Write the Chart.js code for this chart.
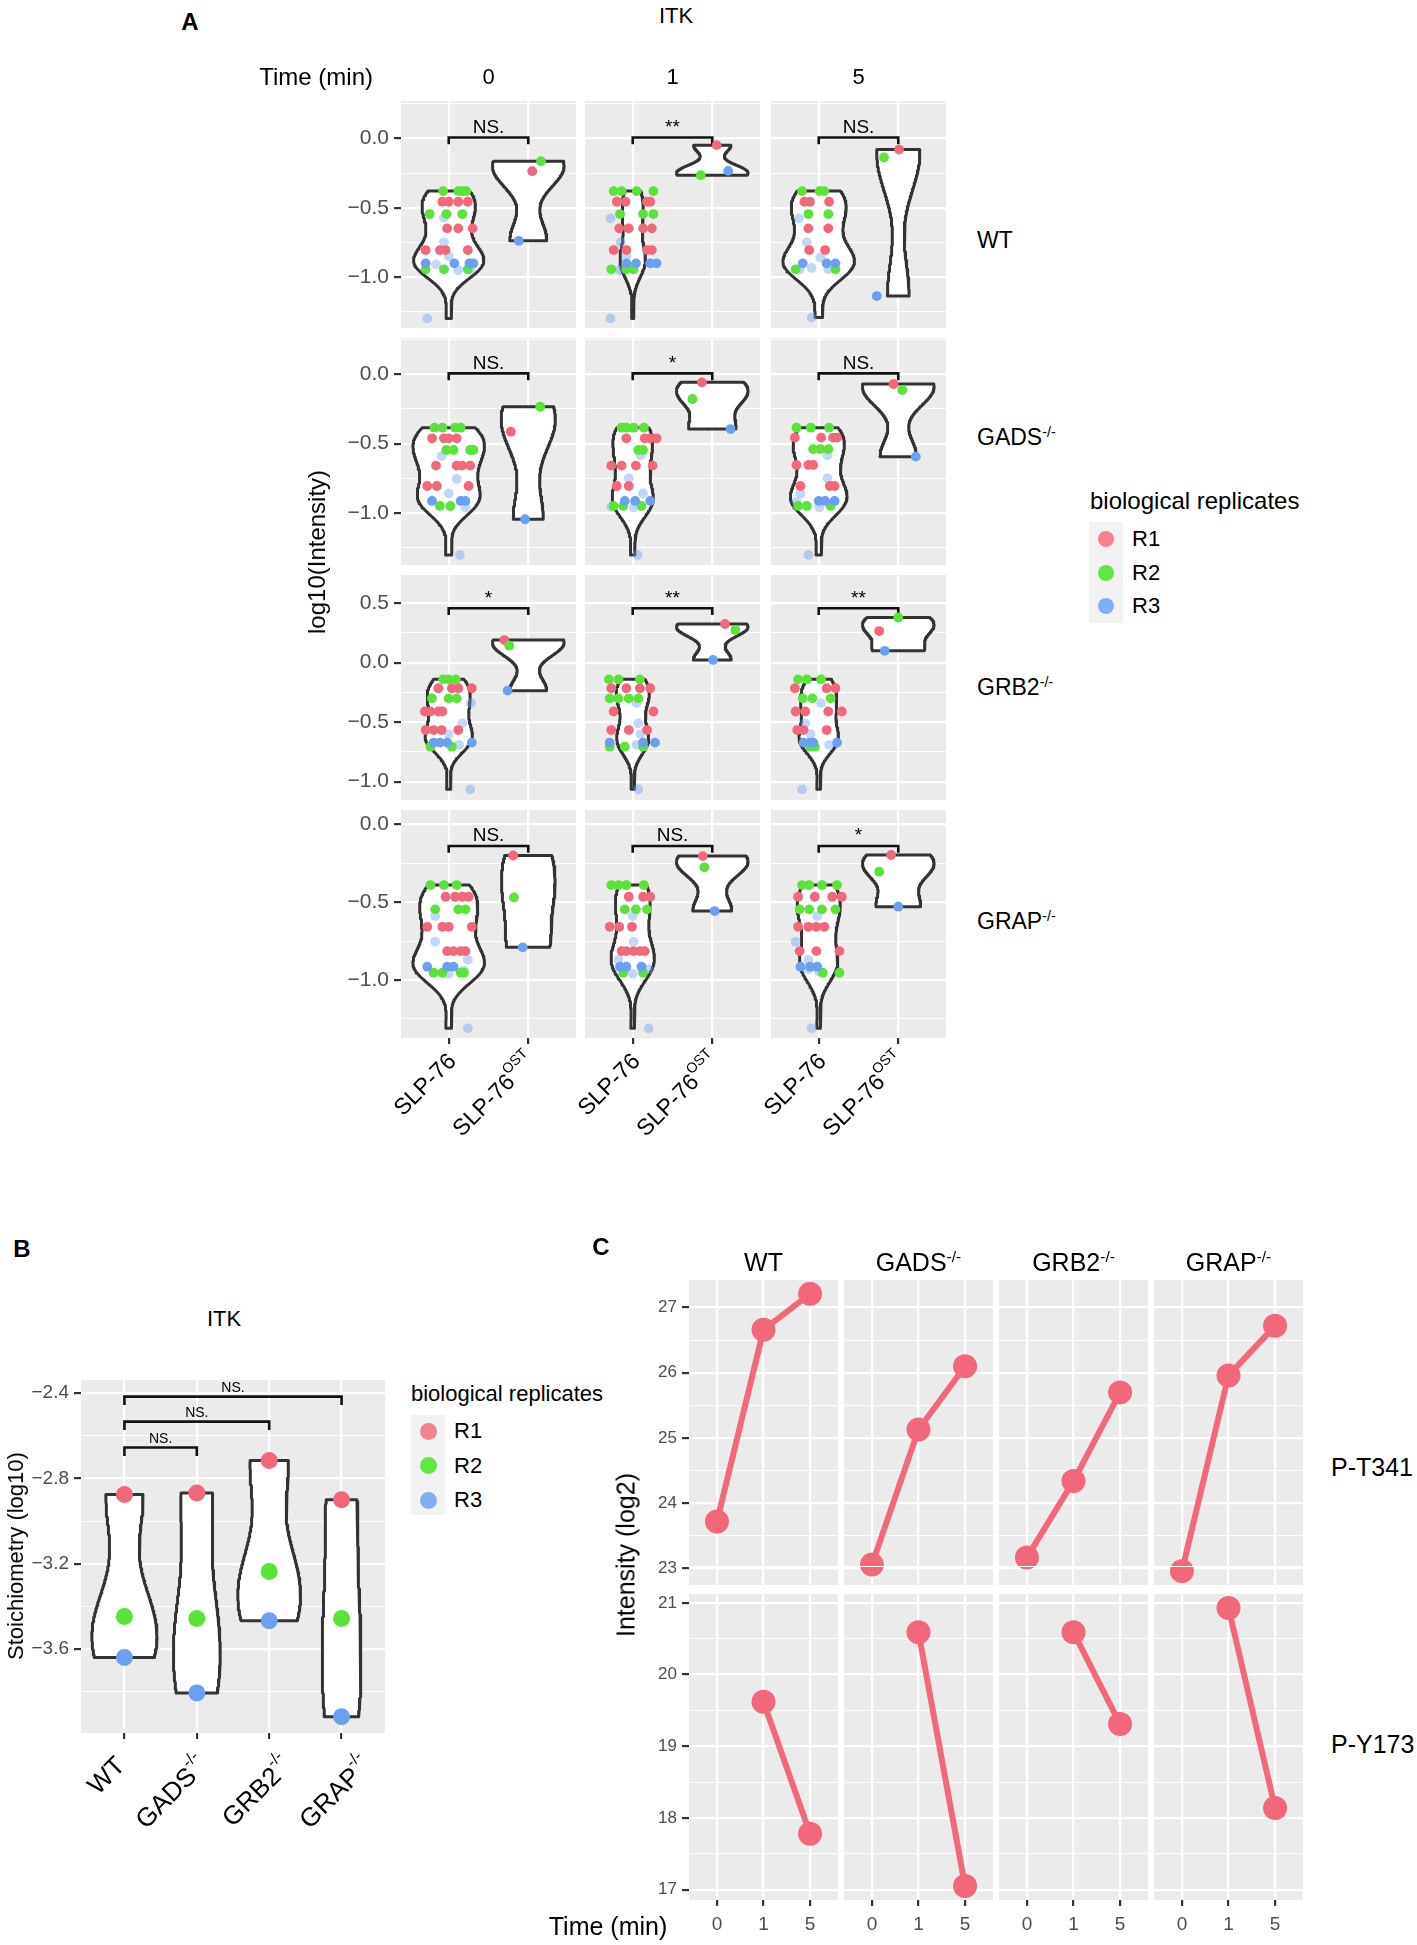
<!DOCTYPE html>
<html>
<head>
<meta charset="utf-8">
<script src="https://cdn.jsdelivr.net/npm/chart.js@4.4.1/dist/chart.umd.min.js"></script>
<style>
  body { margin: 0; background: #fff; }
  #fig { position: relative; width: 1417px; height: 1945px; overflow: hidden;
         font-family: "Liberation Sans", Arial, Helvetica, sans-serif; color: #000; }
  #fig canvas { position: absolute; }
  .t { position: absolute; white-space: nowrap; line-height: 1; }
  .t sup { font-size: 62%; position: relative; top: -0.55em; vertical-align: baseline; }
</style>
</head>
<body>
<div id="fig"></div>
<script>
// ---------------- data ----------------
const genotypes = ['WT', 'GADS', 'GRB2', 'GRAP'];
const genotypeSup = ['', '-/-', '-/-', '-/-'];
const timesA = ['0', '1', '5'];
const baits = ['SLP-76', 'SLP-76'];
const baitSup = ['', 'OST'];
const replicates = ['R1', 'R2', 'R3'];

// panel A: [replicate, x (1 = SLP-76, 2 = SLP-76 OST, jittered), log10(Intensity)]
// 'R3f' = the faint R3 dots
const A_WT_0 = [
  ['R2',0.93,-0.38],['R2',1.12,-0.38],['R2',1.17,-0.38],['R2',1.22,-0.38],
  ['R1',0.92,-0.457],['R1',1.0,-0.457],['R1',1.12,-0.457],['R1',1.24,-0.457],
  ['R2',0.76,-0.546],['R2',0.97,-0.546],['R2',1.17,-0.546],['R3f',0.94,-0.573],
  ['R1',0.98,-0.649],['R1',1.12,-0.649],['R1',1.30,-0.649],['R3f',0.94,-0.75],['R3f',1.0,-0.85],
  ['R1',0.71,-0.806],['R1',0.89,-0.806],['R1',0.96,-0.806],['R1',1.24,-0.806],
  ['R3',0.71,-0.902],['R3',1.07,-0.902],['R3',1.26,-0.902],['R3',1.31,-0.902],['R3f',0.84,-0.91],
  ['R2',0.71,-0.945],['R2',0.94,-0.945],['R2',1.24,-0.945],['R3f',1.12,-0.95],['R3f',1.27,-0.95],
  ['R3f',0.73,-1.30],
  ['R2',2.16,-0.164],['R1',2.05,-0.236],['R3',1.88,-0.739]
];
const A_WT_1 = [
  ['R2',0.76,-0.38],['R2',0.86,-0.38],['R2',1.05,-0.38],['R2',1.26,-0.38],
  ['R1',0.80,-0.457],['R1',0.91,-0.457],['R1',1.18,-0.457],['R1',1.22,-0.457],
  ['R2',0.84,-0.546],['R2',1.13,-0.546],['R2',1.26,-0.546],['R3f',0.72,-0.577],
  ['R1',0.83,-0.649],['R1',0.95,-0.649],['R1',1.13,-0.649],['R1',1.24,-0.649],['R3f',0.85,-0.75],['R3f',0.92,-0.85],
  ['R1',0.76,-0.806],['R1',0.92,-0.806],['R1',1.18,-0.806],['R1',1.24,-0.806],
  ['R3',0.92,-0.902],['R3',1.04,-0.902],['R3',1.22,-0.902],['R3',1.30,-0.902],
  ['R2',0.73,-0.945],['R2',0.92,-0.945],['R2',1.01,-0.945],['R3f',0.84,-0.95],['R3f',0.98,-0.93],
  ['R3f',0.72,-1.30],
  ['R1',2.055,-0.048],['R2',1.854,-0.265],['R3',2.20,-0.234]
];
const A_WT_5 = [
  ['R2',0.79,-0.38],['R2',1.01,-0.38],['R2',1.07,-0.38],
  ['R1',0.82,-0.457],['R1',0.89,-0.457],['R1',1.13,-0.457],
  ['R2',0.87,-0.546],['R2',1.12,-0.546],['R3f',0.75,-0.577],
  ['R1',0.87,-0.649],['R1',1.12,-0.649],['R3f',0.85,-0.75],['R3f',1.02,-0.86],
  ['R1',0.88,-0.806],['R1',1.08,-0.806],
  ['R3',0.80,-0.902],['R3',1.10,-0.902],['R3',1.21,-0.902],['R3f',0.91,-0.935],['R3f',1.12,-0.945],
  ['R2',0.71,-0.945],['R2',1.21,-0.945],['R3f',0.76,-0.945],
  ['R3f',0.91,-1.294],
  ['R1',2.01,-0.08],['R2',1.82,-0.137],['R3',1.73,-1.138]
];
const A_GADS_0 = [
  ['R2',0.82,-0.385],['R2',0.92,-0.385],['R2',1.08,-0.385],['R2',1.15,-0.385],
  ['R1',0.79,-0.462],['R1',0.94,-0.462],['R1',1.0,-0.462],['R1',1.10,-0.462],
  ['R2',0.97,-0.546],['R2',1.06,-0.546],['R2',1.27,-0.546],['R2',1.31,-0.546],['R3f',0.91,-0.59],
  ['R1',0.84,-0.659],['R1',1.10,-0.659],['R1',1.17,-0.659],['R1',1.27,-0.659],['R3f',1.10,-0.755],['R3f',1.0,-0.859],
  ['R1',0.73,-0.806],['R1',0.85,-0.806],['R1',1.25,-0.806],
  ['R3',0.79,-0.914],['R3',1.15,-0.914],['R3',1.21,-0.914],
  ['R2',0.89,-0.95],['R2',1.02,-0.95],['R3f',1.02,-0.955],['R3f',1.21,-0.96],
  ['R3f',1.14,-1.304],
  ['R1',1.78,-0.414],['R2',2.15,-0.234],['R3',1.96,-1.046]
];
const A_GADS_1 = [
  ['R2',0.86,-0.385],['R2',0.92,-0.385],['R2',1.01,-0.385],['R2',1.14,-0.385],
  ['R1',0.92,-0.462],['R1',1.15,-0.462],['R1',1.22,-0.462],['R1',1.30,-0.462],
  ['R2',1.07,-0.546],['R2',1.13,-0.546],['R3f',1.10,-0.585],
  ['R1',0.73,-0.659],['R1',0.86,-0.659],['R1',1.04,-0.659],['R1',1.25,-0.659],['R3f',0.95,-0.75],['R3f',1.13,-0.86],
  ['R1',0.80,-0.806],['R1',0.95,-0.806],
  ['R3',0.90,-0.914],['R3',1.03,-0.914],['R3',1.22,-0.914],
  ['R2',0.76,-0.95],['R2',0.88,-0.95],['R2',1.11,-0.95],['R3f',0.73,-0.955],['R3f',1.01,-0.96],
  ['R3f',1.06,-1.304],
  ['R1',1.87,-0.058],['R2',1.75,-0.178],['R3',2.23,-0.395]
];
const A_GADS_5 = [
  ['R2',0.72,-0.385],['R2',0.90,-0.385],['R2',1.13,-0.385],
  ['R1',0.70,-0.457],['R1',1.03,-0.457],['R1',1.18,-0.457],['R1',1.23,-0.457],
  ['R2',0.93,-0.54],['R2',1.02,-0.54],['R2',1.12,-0.54],['R3f',1.11,-0.585],
  ['R1',0.72,-0.654],['R1',0.87,-0.654],['R1',0.93,-0.654],['R3f',1.11,-0.75],
  ['R1',0.77,-0.806],['R1',1.14,-0.806],['R1',1.20,-0.806],['R3f',0.77,-0.86],['R3f',0.72,-0.92],
  ['R3',1.0,-0.914],['R3',1.08,-0.914],['R3',1.20,-0.914],
  ['R2',0.74,-0.95],['R2',0.85,-0.95],['R2',1.15,-0.95],['R3f',1.01,-0.96],
  ['R3f',0.87,-1.304],
  ['R1',1.94,-0.07],['R2',2.05,-0.113],['R3',2.22,-0.594]
];
const A_GRB2_0 = [
  ['R2',0.93,-0.14],['R2',1.0,-0.14],['R2',1.09,-0.14],
  ['R1',0.87,-0.215],['R1',1.04,-0.215],['R1',1.12,-0.215],['R1',1.29,-0.215],
  ['R2',0.79,-0.30],['R2',1.0,-0.30],['R2',1.10,-0.30],['R3f',1.28,-0.34],
  ['R1',0.70,-0.41],['R1',0.77,-0.41],['R1',0.87,-0.41],['R1',0.92,-0.41],['R3f',1.17,-0.51],
  ['R1',0.71,-0.566],['R1',0.81,-0.566],['R1',0.91,-0.566],['R1',1.12,-0.566],['R3f',1.0,-0.60],['R3f',1.13,-0.69],
  ['R3',0.81,-0.672],['R3',0.89,-0.672],['R3',0.98,-0.672],['R3',1.29,-0.672],
  ['R2',0.77,-0.706],['R2',1.04,-0.706],
  ['R3f',1.27,-1.064],
  ['R1',1.70,0.19],['R2',1.76,0.143],['R3',1.74,-0.235]
];
const A_GRB2_1 = [
  ['R2',0.70,-0.14],['R2',0.82,-0.14],['R2',1.09,-0.14],
  ['R1',0.73,-0.215],['R1',0.92,-0.215],['R1',1.09,-0.215],['R1',1.22,-0.215],
  ['R2',0.71,-0.30],['R2',0.82,-0.30],['R2',0.95,-0.30],['R2',1.07,-0.30],['R3f',1.05,-0.34],
  ['R1',0.76,-0.41],['R1',1.26,-0.41],['R3f',1.07,-0.51],
  ['R1',0.73,-0.566],['R1',0.95,-0.566],['R1',1.18,-0.566],['R3f',1.10,-0.60],['R3f',1.05,-0.69],
  ['R3',0.71,-0.672],['R3',1.13,-0.672],['R3',1.28,-0.672],
  ['R2',0.71,-0.706],['R2',0.90,-0.706],['R2',1.13,-0.706],
  ['R3f',1.07,-1.064],
  ['R1',2.16,0.325],['R2',2.29,0.275],['R3',2.01,0.023]
];
const A_GRB2_5 = [
  ['R2',0.74,-0.14],['R2',0.85,-0.14],['R2',1.03,-0.14],
  ['R1',0.70,-0.215],['R1',1.10,-0.215],['R1',1.21,-0.215],
  ['R2',0.80,-0.30],['R2',0.92,-0.30],['R2',1.15,-0.30],['R3f',1.03,-0.34],
  ['R1',0.71,-0.41],['R1',0.83,-0.41],['R1',1.12,-0.41],['R1',1.29,-0.41],['R3f',0.83,-0.51],
  ['R1',0.73,-0.566],['R1',0.81,-0.566],['R1',1.10,-0.566],['R3f',0.90,-0.60],['R3f',1.13,-0.69],
  ['R3',0.81,-0.672],['R3',0.89,-0.672],['R3',0.93,-0.672],['R3',1.23,-0.672],
  ['R2',0.89,-0.706],['R2',0.95,-0.706],
  ['R3f',0.79,-1.064],
  ['R2',2.0,0.38],['R1',1.76,0.266],['R3',1.83,0.10]
];
const A_GRAP_0 = [
  ['R2',0.77,-0.39],['R2',0.94,-0.39],['R2',1.10,-0.39],
  ['R1',0.96,-0.465],['R1',1.08,-0.465],['R1',1.17,-0.465],['R1',1.25,-0.465],
  ['R2',0.83,-0.546],['R2',1.12,-0.546],['R2',1.21,-0.546],['R3f',0.83,-0.589],
  ['R1',0.73,-0.658],['R1',0.92,-0.658],['R1',1.0,-0.658],['R1',1.29,-0.658],['R3f',0.83,-0.754],['R3f',1.24,-0.87],
  ['R1',0.98,-0.814],['R1',1.06,-0.814],['R1',1.15,-0.814],['R1',1.21,-0.814],
  ['R3',0.73,-0.914],['R3',0.98,-0.914],['R3',1.06,-0.914],
  ['R2',0.81,-0.953],['R2',0.92,-0.953],['R2',1.15,-0.953],['R2',1.19,-0.953],['R3f',1.0,-0.96],['R3f',1.19,-0.94],
  ['R3f',1.24,-1.31],
  ['R1',1.81,-0.2],['R2',1.82,-0.469],['R3',1.93,-0.79]
];
const A_GRAP_1 = [
  ['R2',0.73,-0.39],['R2',0.82,-0.39],['R2',0.92,-0.39],['R2',1.14,-0.39],
  ['R1',0.95,-0.465],['R1',1.13,-0.465],['R1',1.22,-0.465],
  ['R2',0.90,-0.546],['R2',1.04,-0.546],['R2',1.18,-0.546],['R3f',1.0,-0.589],
  ['R1',0.71,-0.658],['R1',0.83,-0.658],['R1',0.99,-0.658],['R3f',1.01,-0.754],['R3f',0.82,-0.87],
  ['R1',0.86,-0.814],['R1',0.92,-0.814],['R1',1.01,-0.814],['R1',1.09,-0.814],['R1',1.15,-0.814],
  ['R3',0.84,-0.914],['R3',0.92,-0.914],['R3',1.11,-0.914],
  ['R2',0.88,-0.953],['R2',1.13,-0.953],['R3f',1.0,-0.96],['R3f',1.20,-0.93],
  ['R3f',1.20,-1.31],
  ['R1',1.88,-0.204],['R2',1.90,-0.276],['R3',2.03,-0.557]
];
const A_GRAP_5 = [
  ['R2',0.79,-0.39],['R2',0.88,-0.39],['R2',1.04,-0.39],['R2',1.23,-0.39],
  ['R1',0.74,-0.465],['R1',0.95,-0.465],['R1',1.17,-0.465],['R1',1.29,-0.465],
  ['R2',0.76,-0.546],['R2',0.88,-0.546],['R2',1.04,-0.546],['R2',1.21,-0.546],['R3f',0.98,-0.589],
  ['R1',0.74,-0.658],['R1',0.87,-0.658],['R1',0.97,-0.658],['R1',1.07,-0.658],['R3f',0.71,-0.754],['R3f',0.87,-0.87],
  ['R1',0.76,-0.814],['R1',0.97,-0.814],['R1',1.26,-0.814],
  ['R3',0.77,-0.914],['R3',0.89,-0.914],['R3',0.98,-0.914],['R3f',0.87,-0.93],['R3f',1.0,-0.945],
  ['R2',1.05,-0.953],['R2',1.26,-0.953],
  ['R3f',0.91,-1.31],
  ['R1',1.91,-0.197],['R2',1.76,-0.304],['R3',2.0,-0.529]
];
const sigA = [['NS.', '**', 'NS.'], ['NS.', '*', 'NS.'], ['*', '**', '**'], ['NS.', 'NS.', '*']];
const bracketA = [0.007, 0.007, 0.457, -0.139];
const yRangeA = [[-1.369, 0.271], [-1.376, 0.262], [-1.154, 0.737], [-1.372, 0.092]];
const yTicksA = [[0, -0.5, -1], [0, -0.5, -1], [0.5, 0, -0.5, -1], [0, -0.5, -1]];
const yMinorA = [[0.25, -0.25, -0.75, -1.25], [0.25, -0.25, -0.75, -1.25], [0.25, -0.25, -0.75], [-0.25, -0.75, -1.25]];

// panel B: stoichiometry (log10) per genotype
const B_R1 = [-2.876, -2.868, -2.716, -2.900];
const B_R2 = [-3.447, -3.457, -3.236, -3.457];
const B_R3 = [-3.639, -3.805, -3.467, -3.917];
const B_brackets = [[1, 2, -2.655], [1, 3, -2.534], [1, 4, -2.417]];
const B_sig = ['NS.', 'NS.', 'NS.'];
const B_yTicks = [-2.4, -2.8, -3.2, -3.6];
const B_yMinor = [-2.6, -3.0, -3.4, -3.8];

// panel C: intensity (log2) at 0, 1, 5 min
const C_times = ['0', '1', '5'];
const C_sites = ['P-T341', 'P-Y173'];
const C_T341 = [[23.72, 26.66, 27.21], [23.06, 25.13, 26.10], [23.17, 24.34, 25.70], [22.96, 25.96, 26.72]];
const C_Y173 = [[null, 19.62, 17.78], [null, 20.59, 17.05], [null, 20.59, 19.31], [null, 20.93, 18.14]];
const C_yTicks = [[23, 24, 25, 26, 27], [17, 18, 19, 20, 21]];

// ---------------- helpers ----------------
const FONT = '"Liberation Sans", Arial, Helvetica, sans-serif';
const COL = { R1: '#F2687B', R2: '#5BE23B', R3: '#6B9FF0', R3f: 'rgba(107,159,240,0.42)' };
const KEY = { R1: '#F5808E', R2: '#62E646', R3: '#82AEF3' };
const fig = document.getElementById('fig');
const minus = s => s.replace('-', '\u2212');
const YW = 70;   // reserved width of the y axis box
const XH = 40;   // reserved height of a labelled x axis box

function label(html, x, y, o = {}) {
  const d = document.createElement('div');
  d.className = 't';
  d.innerHTML = html;
  d.style.left = x + 'px';
  d.style.top = y + 'px';
  d.style.fontSize = (o.size || 22) + 'px';
  if (o.bold) d.style.fontWeight = 'bold';
  const ax = o.align === 'left' ? '0' : o.align === 'right' ? '-100%' : '-50%';
  d.style.transform = `translate(${ax}, -50%)` + (o.rot ? ` rotate(${o.rot}deg)` : '');
  fig.appendChild(d);
}
function dot(x, y, r, color) {
  const d = document.createElement('div');
  Object.assign(d.style, { position: 'absolute', left: (x - r) + 'px', top: (y - r) + 'px',
    width: 2 * r + 'px', height: 2 * r + 'px', borderRadius: '50%', background: color });
  fig.appendChild(d);
}
function box(x, y, w, h, color) {
  const d = document.createElement('div');
  Object.assign(d.style, { position: 'absolute', left: x + 'px', top: y + 'px', width: w + 'px', height: h + 'px', background: color });
  fig.appendChild(d);
}

function quantile(s, p) {
  const h = (s.length - 1) * p, lo = Math.floor(h);
  return s[lo] + (h - lo) * (s[Math.min(lo + 1, s.length - 1)] - s[lo]);
}
// gaussian kernel density, bw.nrd0, trimmed to the data range (as geom_violin)
function density(vals, n = 120) {
  const m = vals.length;
  const mean = vals.reduce((a, b) => a + b, 0) / m;
  const sd = Math.sqrt(vals.reduce((a, b) => a + (b - mean) ** 2, 0) / (m - 1));
  const s = [...vals].sort((a, b) => a - b);
  let lo = Math.min(sd, (quantile(s, 0.75) - quantile(s, 0.25)) / 1.34);
  if (!(lo > 0)) lo = sd || 1;
  const bw = 0.9 * lo * Math.pow(m, -0.2);
  const out = [];
  for (let i = 0; i < n; i++) {
    const y = s[0] + (s[m - 1] - s[0]) * i / (n - 1);
    let d = 0;
    for (const v of vals) d += Math.exp(-0.5 * ((y - v) / bw) ** 2);
    out.push({ y, d: d / (m * bw * Math.sqrt(2 * Math.PI)) });
  }
  return out;
}
function violinData(xc, dens, maxD) {
  const left = dens.map(p => ({ x: xc - 0.45 * p.d / maxD, y: p.y }));
  const right = dens.map(p => ({ x: xc + 0.45 * p.d / maxD, y: p.y })).reverse();
  return [...left, ...right, left[0], left[1]];
}
const violinDs = data => ({ data, showLine: true, fill: 'shape', backgroundColor: '#fff', borderColor: '#333',
  borderWidth: 3, borderJoinStyle: 'round', borderCapStyle: 'round', pointRadius: 0, order: 10 });
const bracketDs = data => ({ data, showLine: true, fill: false, borderColor: '#111', borderWidth: 2.6,
  borderJoinStyle: 'miter', pointRadius: 0, order: 9 });

function yAxis(min, max, majors, minors, show, fmt, size) {
  const all = [...majors, ...minors].sort((a, b) => a - b);
  const isMajor = v => majors.some(m => Math.abs(m - v) < 1e-9);
  return {
    type: 'linear', min, max,
    afterBuildTicks: s => { s.ticks = all.map(v => ({ value: v })); },
    afterFit: s => { s.width = YW; s.paddingTop = 0; s.paddingBottom = 0; },
    border: { display: false },
    grid: { color: '#fff', lineWidth: c => isMajor(c.tick.value) ? 2.2 : 1.1, tickLength: 7, tickWidth: 2.2,
      tickColor: c => (show && isMajor(c.tick.value)) ? '#333' : 'rgba(0,0,0,0)' },
    ticks: { display: show, autoSkip: false, padding: 5, color: '#4D4D4D', font: { family: FONT, size },
      callback: v => isMajor(v) ? fmt(v) : '' }
  };
}
function xAxis(n, showMarks, labels, size) {
  const vals = Array.from({ length: n }, (_, i) => i + 1);
  return {
    type: 'linear', min: 0.4, max: n + 0.6,
    afterBuildTicks: s => { s.ticks = vals.map(v => ({ value: v })); },
    afterFit: s => { s.height = labels ? XH : 0; s.paddingLeft = 0; s.paddingRight = 0; },
    border: { display: false },
    grid: { color: '#fff', lineWidth: 2.2, tickLength: 6, tickWidth: 2.2, tickColor: showMarks ? '#333' : 'rgba(0,0,0,0)' },
    ticks: { display: !!labels, autoSkip: false, maxRotation: 0, padding: 7, color: '#4D4D4D',
      font: { family: FONT, size: size || 16 }, callback: v => labels ? labels[v - 1] : '' }
  };
}

const bgPlugin = {
  id: 'panelBg',
  beforeDraw(chart) {
    const a = chart.chartArea, ctx = chart.ctx;
    ctx.save(); ctx.fillStyle = '#EBEBEB'; ctx.fillRect(a.left, a.top, a.right - a.left, a.bottom - a.top); ctx.restore();
  }
};
function notesPlugin(notes, rotLabels) {
  return {
    id: 'notes',
    afterDatasetsDraw(chart) {
      const ctx = chart.ctx, xs = chart.scales.x, ys = chart.scales.y;
      ctx.save();
      ctx.fillStyle = '#000';
      for (const n of notes) {
        ctx.font = `${n.size}px ${FONT}`;
        ctx.textAlign = 'center'; ctx.textBaseline = 'alphabetic';
        ctx.fillText(n.text, xs.getPixelForValue(n.x), ys.getPixelForValue(n.y) - 4.5);
      }
      for (const l of rotLabels) {
        const px = xs.getPixelForValue(l.x) + l.dx, py = chart.chartArea.bottom + l.dy;
        ctx.save();
        ctx.translate(px, py); ctx.rotate(-Math.PI / 4);
        ctx.textAlign = 'right'; ctx.textBaseline = 'middle';
        let off = 0;
        if (l.sup) {
          ctx.font = `${l.size * 0.62}px ${FONT}`;
          ctx.fillText(l.sup, 0, -l.size * 0.42);
          off = ctx.measureText(l.sup).width;
        }
        ctx.font = `${l.size}px ${FONT}`;
        ctx.fillText(l.main, -off, 0);
        ctx.restore();
      }
      ctx.restore();
    }
  };
}

// chart area of every panel is placed exactly on box b (page pixels)
function makePanel(b, scales, datasets, notes = [], rotLabels = [], below = 30, labelledX = false) {
  const outer = { left: 80, right: 12, top: 30, bottom: below };
  const pad = { left: outer.left - YW, right: outer.right, top: outer.top,
                bottom: outer.bottom - (labelledX ? XH : 0) };
  const W = Math.round(b.w) + outer.left + outer.right, H = Math.round(b.h) + outer.top + outer.bottom;
  const cv = document.createElement('canvas');
  cv.width = W; cv.height = H;
  cv.style.left = (Math.round(b.x) - outer.left) + 'px';
  cv.style.top = (Math.round(b.y) - outer.top) + 'px';
  cv.style.width = W + 'px'; cv.style.height = H + 'px';
  fig.appendChild(cv);
  return new Chart(cv, {
    type: 'scatter',
    data: { datasets },
    options: {
      responsive: false, animation: false, events: [],
      layout: { padding: pad },
      plugins: { legend: { display: false }, tooltip: { enabled: false } },
      scales
    },
    plugins: [bgPlugin, notesPlugin(notes, rotLabels)]
  });
}
function pointDs(pts, rep, r, order) {
  return { data: pts.map(p => ({ x: p[0], y: p[1] })), pointRadius: r, pointBackgroundColor: COL[rep],
    pointBorderWidth: 0, borderWidth: 0, order };
}
const fmt1 = v => minus(v.toFixed(1));

// ---------------- panel A ----------------
const panelsA = [[A_WT_0, A_WT_1, A_WT_5], [A_GADS_0, A_GADS_1, A_GADS_5],
                 [A_GRB2_0, A_GRB2_1, A_GRB2_5], [A_GRAP_0, A_GRAP_1, A_GRAP_5]];
const aColX = [401, 585, 771], aRowY = [101, 338, 575, 810], aRowH = [227, 227, 225, 228], aW = 175;

panelsA.forEach((row, r) => row.forEach((pts, c) => {
  const [ymin, ymax] = yRangeA[r];
  const groups = [1, 2].map(g => pts.filter(p => Math.abs(p[1] - g) < 0.5).map(p => p[2]));
  const dens = groups.map(v => density(v));
  const maxD = Math.max(...dens.flat().map(p => p.d));
  const ds = dens.map((d, g) => violinDs(violinData(g + 1, d, maxD)));
  const by = bracketA[r], tip = 0.03 * (ymax - ymin);
  ds.push(bracketDs([{ x: 1, y: by - tip }, { x: 1, y: by }, { x: 2, y: by }, { x: 2, y: by - tip }]));
  [['R3f', 4], ['R1', 3], ['R2', 2], ['R3', 1]].forEach(([rep, ord]) =>
    ds.push(pointDs(pts.filter(p => p[0] === rep).map(p => [p[1], p[2]]), rep, 4.9, ord)));
  const bottom = r === 3;
  const rot = bottom ? baits.map((b, i) => ({ x: i + 1, main: b, sup: baitSup[i], size: 23, dx: 4, dy: 20 })) : [];
  makePanel({ x: aColX[c], y: aRowY[r], w: aW, h: aRowH[r] },
    { x: xAxis(2, bottom, null), y: yAxis(ymin, ymax, yTicksA[r], yMinorA[r], c === 0, fmt1, 21) },
    ds, [{ x: 1.5, y: by, text: sigA[r][c], size: 19 }], rot, bottom ? 120 : 30);
}));

label('A', 190, 22, { size: 24, bold: true });
label('ITK', 676, 16, { size: 22 });
label('Time (min)', 373, 77, { size: 24, align: 'right' });
timesA.forEach((t, i) => label(t, aColX[i] + aW / 2, 77, { size: 22 }));
const aStripY = [240, 437, 687, 921];
genotypes.forEach((g, i) => label(g + (genotypeSup[i] ? `<sup>${genotypeSup[i]}</sup>` : ''), 977, aStripY[i], { size: 23, align: 'left' }));
label('log10(Intensity)', 317, 552, { size: 24, rot: -90 });

// legend A
label('biological replicates', 1090, 501, { size: 24, align: 'left' });
box(1089, 522, 34, 101, '#F2F2F2');
replicates.forEach((rep, i) => {
  const y = 539 + i * 33.5;
  dot(1106, y, 8, KEY[rep]);
  label(rep, 1132, y, { size: 22, align: 'left' });
});

// ---------------- panel B ----------------
{
  const groups = B_R1.map((v, i) => [v, B_R2[i], B_R3[i]]);
  const dens = groups.map(v => density(v));
  const maxD = Math.max(...dens.flat().map(p => p.d));
  const ds = dens.map((d, g) => violinDs(violinData(g + 1, d, maxD)));
  const ymin = -3.993, ymax = -2.339, tip = 0.03 * (ymax - ymin) * 0.8;
  const notes = [];
  B_brackets.forEach(([a, b, y], i) => {
    ds.push(bracketDs([{ x: a, y: y - tip }, { x: a, y }, { x: b, y }, { x: b, y: y - tip }]));
    notes.push({ x: (a + b) / 2, y, text: B_sig[i], size: 14 });
  });
  [['R1', B_R1, 3], ['R2', B_R2, 2], ['R3', B_R3, 1]].forEach(([rep, vals, ord]) =>
    ds.push(pointDs(vals.map((v, i) => [i + 1, v]), rep, 8.5, ord)));
  const labelShift = [-3, 7, 19, 26];
  const rot = genotypes.map((g, i) => ({ x: i + 1, main: g, sup: genotypeSup[i], size: 26, dx: labelShift[i], dy: 29 }));
  makePanel({ x: 81, y: 1380, w: 304, h: 353 },
    { x: xAxis(4, true, null), y: yAxis(ymin, ymax, B_yTicks, B_yMinor, true, fmt1, 19) },
    ds, notes, rot, 150);
  label('B', 22, 1249, { size: 24, bold: true });
  label('ITK', 224, 1319, { size: 22 });
  label('Stoichiometry (log10)', 16, 1556, { size: 22, rot: -90 });
  label('biological replicates', 411, 1394, { size: 22, align: 'left' });
  box(411, 1415, 34, 100, '#F2F2F2');
  replicates.forEach((rep, i) => {
    const y = 1431 + i * 34.5;
    dot(428, y, 8.5, KEY[rep]);
    label(rep, 454, y, { size: 22, align: 'left' });
  });
}

// ---------------- panel C ----------------
{
  const rows = [C_T341, C_Y173];
  const cColX = [689, 844, 999, 1154], cW = 149, cRowY = [1280, 1594], cRowH = [305, 306];
  rows.forEach((rowData, r) => {
    const vals = rowData.flat().filter(v => v !== null);
    const lo = Math.min(...vals), hi = Math.max(...vals), e = 0.05 * (hi - lo);
    const majors = C_yTicks[r];
    const minors = majors.map(v => v + 0.5).concat([majors[0] - 0.5]);
    rowData.forEach((series, c) => {
      const ds = [{ data: series.map((v, i) => ({ x: i + 1, y: v })), showLine: true, borderColor: COL.R1,
        borderWidth: 6, pointRadius: 12, pointBackgroundColor: COL.R1, pointBorderWidth: 0, order: 1 }];
      makePanel({ x: cColX[c], y: cRowY[r], w: cW, h: cRowH[r] },
        { x: xAxis(3, r === 1, r === 1 ? C_times : null, 19),
          y: yAxis(lo - e, hi + e, majors, minors, c === 0, v => String(v), 17) },
        ds, [], [], r === 1 ? 50 : 30, r === 1);
    });
    label(C_sites[r], 1331, r === 0 ? 1467 : 1744, { size: 25, align: 'left' });
  });
  genotypes.forEach((g, i) => label(g + (genotypeSup[i] ? `<sup>${genotypeSup[i]}</sup>` : ''), cColX[i] + cW / 2, 1262, { size: 25 }));
  label('C', 601, 1247, { size: 24, bold: true });
  label('Time (min)', 608, 1926, { size: 25 });
  label('Intensity (log2)', 626, 1555, { size: 25, rot: -90 });
}
</script>
</body>
</html>
